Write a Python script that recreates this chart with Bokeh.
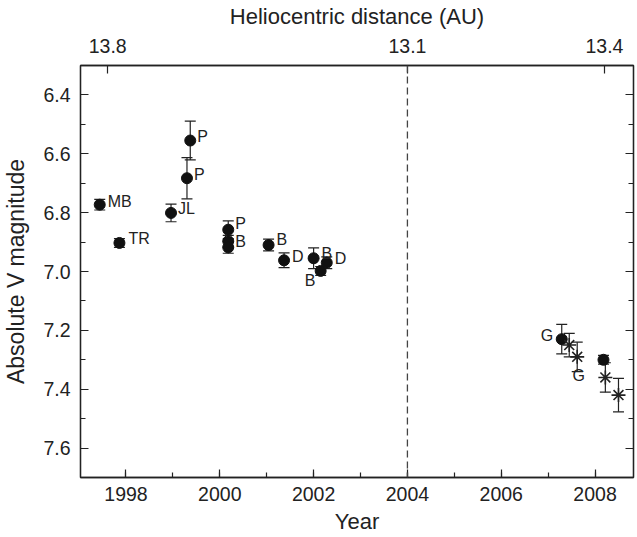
from bokeh.plotting import figure
from bokeh.models import (Range1d, LinearAxis, SingleIntervalTicker, FixedTicker,
                          PrintfTickFormatter, Span, ColumnDataSource, Whisker)
from bokeh.core.properties import value
from bokeh.embed import file_html
from bokeh.resources import INLINE

# ---- data ----
circ_year = [1997.44, 1997.86, 1998.96, 1999.30, 1999.37, 2000.18, 2000.18, 2000.18,
             2001.04, 2001.37, 2002.00, 2002.15, 2002.28, 2007.29, 2008.18]
circ_mag = [6.773, 6.903, 6.801, 6.683, 6.555, 6.858, 6.897, 6.918,
            6.910, 6.962, 6.955, 6.998, 6.970, 7.23, 7.30]
circ_err = [0.018, 0.015, 0.03, 0.07, 0.066, 0.03, 0.02, 0.02,
            0.02, 0.025, 0.035, 0.015, 0.02, 0.05, 0.015]
circ_label = ["MB", "TR", "JL", "P", "P", "P", "B", "", "B", "D", "B", "B", "D", "G", "G"]

star_year = [2007.45, 2007.62, 2008.22, 2008.50]
star_mag = [7.25, 7.29, 7.36, 7.42]
star_err = [0.04, 0.05, 0.05, 0.057]

perihelion_year = 2004.0
top_tick_year = [1997.61, 2004.0, 2008.2]
top_tick_label = ["13.8", "13.1", "13.4"]

# ---- label placement (pixels; dx right, up positive) ----
lab_dx = [8, 9, 7, 7, 7, 7, 7, 0, 8, 8, 8, -16, 8, -21, -31]
lab_up = [3, 4, 4, 4, 4, 6, 0, 0, 6, 4, 5, -10, 4, 4, -16]

FONT = "Liberation Sans"
INK = "#222222"

p = figure(frame_width=553, frame_height=412, output_backend="svg", toolbar_location=None,
           x_range=Range1d(1997.03, 2008.82), y_range=Range1d(7.70, 6.30),
           min_border_left=80, min_border_top=63, min_border_right=2, min_border_bottom=50,
           x_axis_label="Year", y_axis_label="Absolute V magnitude")
p.grid.visible = False
p.outline_line_color = INK
p.outline_line_width = 1.3
p.background_fill_color = "white"
p.border_fill_color = "white"

p.xaxis.ticker = SingleIntervalTicker(interval=2, num_minor_ticks=2)
p.yaxis.ticker = SingleIntervalTicker(interval=0.2, num_minor_ticks=2)
p.yaxis.formatter = PrintfTickFormatter(format="%.1f")

def style_axis(ax):
    ax.axis_line_color = INK
    ax.axis_line_width = 1.3
    ax.major_tick_in = 8
    ax.major_tick_out = 0
    ax.minor_tick_in = 5
    ax.minor_tick_out = 0
    ax.major_tick_line_color = INK
    ax.minor_tick_line_color = INK
    ax.major_tick_line_width = 1.2
    ax.minor_tick_line_width = 1.2
    ax.major_label_text_font = FONT
    ax.major_label_text_font_size = "19.5px"
    ax.major_label_text_color = INK
    ax.axis_label_text_font = FONT
    ax.axis_label_text_font_size = "22px"
    ax.axis_label_text_font_style = "normal"
    ax.axis_label_text_color = INK

for ax in p.xaxis + p.yaxis:
    style_axis(ax)
p.yaxis.axis_label_text_font_size = "23px"
p.xaxis.major_label_standoff = 9
p.xaxis.axis_label_standoff = 5
p.yaxis.major_label_standoff = 10
p.yaxis.axis_label_standoff = 11

# right axis (ticks only, no labels)
ra = LinearAxis(ticker=SingleIntervalTicker(interval=0.2, num_minor_ticks=2))
style_axis(ra)
ra.major_label_text_font_size = "0px"
ra.major_label_standoff = 0
p.add_layout(ra, "right")

# top axis: heliocentric distance
ta = LinearAxis(ticker=FixedTicker(ticks=top_tick_year), axis_label="Heliocentric distance (AU)")
style_axis(ta)
ta.major_label_overrides = {t: l for t, l in zip(top_tick_year, top_tick_label)}
ta.minor_tick_in = 0
ta.major_label_standoff = 13
ta.axis_label_standoff = 7
p.add_layout(ta, "above")

# perihelion dashed line
p.add_layout(Span(location=perihelion_year, dimension="height", line_color="#444444",
                  line_width=1.3, line_dash="7 4"))

# error bars
circ_src = ColumnDataSource(dict(x=circ_year, y=circ_mag,
                                 lo=[m - e for m, e in zip(circ_mag, circ_err)],
                                 hi=[m + e for m, e in zip(circ_mag, circ_err)],
                                 label=circ_label, dx=lab_dx, dy=[-u for u in lab_up]))
star_src = ColumnDataSource(dict(x=star_year, y=star_mag,
                                 lo=[m - e for m, e in zip(star_mag, star_err)],
                                 hi=[m + e for m, e in zip(star_mag, star_err)]))
for src in (circ_src, star_src):
    w = Whisker(base="x", lower="lo", upper="hi", source=src,
                line_color=INK, line_width=1.2)
    for head in (w.upper_head, w.lower_head):
        head.size = 11
        head.line_color = INK
        head.line_width = 1.2
    p.add_layout(w)

p.scatter("x", "y", source=circ_src, marker="circle", size=11,
          fill_color="#111111", line_color="#111111")
p.scatter("x", "y", source=star_src, marker="asterisk", size=14,
          line_color=INK, line_width=1.6)

p.text("x", "y", text="label", source=circ_src, x_offset="dx", y_offset="dy",
       text_font=value(FONT), text_font_size="16px", text_color=INK,
       text_baseline="middle", text_align="left")

open("out.html", "w").write(file_html(p, INLINE))
